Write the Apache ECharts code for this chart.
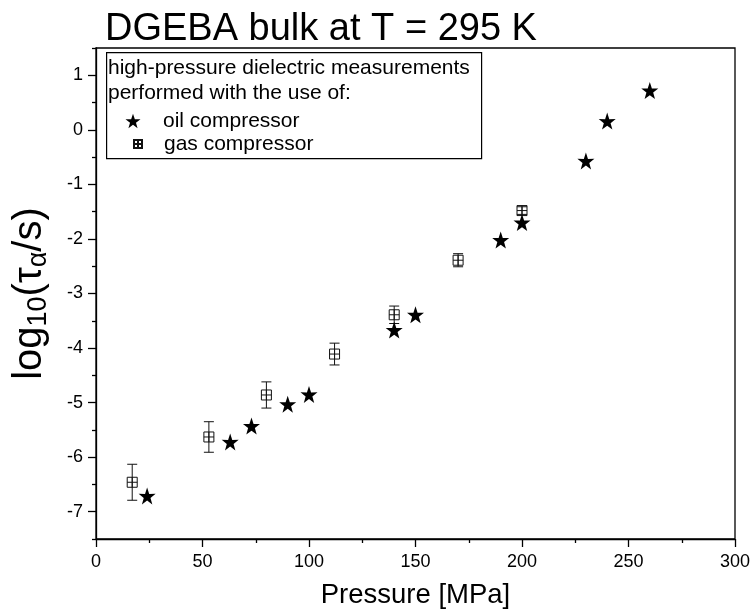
<!DOCTYPE html>
<html>
<head>
<meta charset="utf-8">
<script src="https://cdn.jsdelivr.net/npm/echarts@6/dist/echarts.min.js"></script>
<style>
html,body{margin:0;padding:0;background:#fff;}
#chart{width:753px;height:610px;}
</style>
</head>
<body>
<div id="chart"></div>
<script>
// ---- data ----
const pressureOil = [24, 63, 73, 90, 100, 140, 150, 190, 200, 230, 240, 260];
const logTauOil   = [-6.71, -5.72, -5.43, -5.03, -4.85, -3.67, -3.39, -2.02, -1.70, -0.57, 0.16, 0.72];
const pressureGas = [17, 53, 80, 112, 140, 170, 200];
const logTauGas   = [-6.46, -5.63, -4.86, -4.11, -3.39, -2.39, -1.48];
const errGas      = [0.33, 0.28, 0.24, 0.20, 0.16, 0.12, 0.07];
const yTickValues = [-7, -6, -5, -4, -3, -2, -1, 0, 1];
const yMinorValues = [-7.5, -6.5, -5.5, -4.5, -3.5, -2.5, -1.5, -0.5, 0.5, 1.5];
const titleText = 'DGEBA bulk at T = 295 K';
const legendHeader = ['high-pressure dielectric measurements', 'performed with the use of:'];
const seriesNames = ['oil compressor', 'gas compressor'];

const STAR = 'path://M50,0 L61.8,35.1 L98.1,34.5 L69.1,56.7 L79.4,91.5 L50,70.5 L20.6,91.5 L30.9,56.7 L1.9,34.5 L38.2,35.1 Z';
const BOX = 'path://M0,0 L10,0 L10,10 L0,10 Z M5,0 L5,10 M0,5 L10,5';

const oilData = pressureOil.map((p, i) => [p, logTauOil[i]]);
const gasData = pressureGas.map((p, i) => [p, logTauGas[i]]);
const errData = pressureGas.map((p, i) => [p, logTauGas[i] - errGas[i], logTauGas[i] + errGas[i]]);

const FONT = 'Liberation Sans, Arial, sans-serif';
const chart = echarts.init(document.getElementById('chart'), null, {renderer: 'canvas'});

const option = {
  animation: false,
  backgroundColor: '#fff',
  textStyle: {fontFamily: FONT},
  title: {
    text: titleText,
    left: 100, top: 6,
    textStyle: {fontFamily: FONT, fontSize: 38, fontWeight: 'normal', color: '#000'}
  },
  grid: {left: 96, right: 18, top: 48, bottom: 71, outerBoundsMode: 'none', show: true, borderColor: '#000', borderWidth: 1.3, backgroundColor: 'transparent'},
  legend: [
    {
      data: [seriesNames[0]], orient: 'vertical', left: 125.5, top: 110, padding: 0, z: 10,
      itemWidth: 15, itemHeight: 15, itemGap: 0,
      textStyle: {fontFamily: FONT, fontSize: 21, lineHeight: 22, color: '#000', padding: [0, 0, 0, 17.5]}
    },
    {
      data: [seriesNames[1]], orient: 'vertical', left: 133, top: 133, padding: 0, z: 10,
      itemWidth: 8, itemHeight: 8, itemGap: 0,
      textStyle: {fontFamily: FONT, fontSize: 21, lineHeight: 22, color: '#000', padding: [0, 0, 0, 17]}
    }
  ],
  graphic: [
    {type: 'rect', left: 106, top: 52, shape: {width: 375, height: 106}, style: {fill: '#fff', stroke: '#000', lineWidth: 1.2}, z: 5},
    {type: 'text', x: 108, y: 68, style: {text: legendHeader[0], font: '21px ' + FONT, fill: '#000', verticalAlign: 'middle'}, z: 6},
    {type: 'text', x: 108, y: 93, style: {text: legendHeader[1], font: '21px ' + FONT, fill: '#000', verticalAlign: 'middle'}, z: 6}
  ],
  xAxis: {
    type: 'value', min: 0, max: 300, interval: 50,
    name: 'Pressure [MPa]', nameLocation: 'middle', nameGap: 42,
    nameTextStyle: {fontFamily: FONT, fontSize: 27.5, color: '#000'},
    axisLine: {show: true, onZero: false, lineStyle: {color: '#000', width: 1.3}},
    axisTick: {show: true, inside: false, length: 8, lineStyle: {color: '#000', width: 1.3}},
    minorTick: {show: true, splitNumber: 2, length: 4, lineStyle: {color: '#000', width: 1.3}},
    axisLabel: {fontFamily: FONT, fontSize: 18, color: '#000', margin: 14},
    splitLine: {show: false}
  },
  yAxis: [
    {
      type: 'value', min: -7.5, max: 1.5,
      name: '{a|log}{b|10}{a|(τ}{b|α}{a|/s)}', nameLocation: 'middle', nameGap: 44,
      nameTextStyle: {
        fontFamily: FONT, color: '#000',
        rich: {
          a: {fontFamily: FONT, fontSize: 40, lineHeight: 44, color: '#000'},
          b: {fontFamily: FONT, fontSize: 27, lineHeight: 22, verticalAlign: 'bottom', color: '#000'}
        }
      },
      axisLine: {show: true, onZero: false, lineStyle: {color: '#000', width: 1.3}},
      axisTick: {show: true, inside: false, length: 8, customValues: yTickValues, lineStyle: {color: '#000', width: 1.3}},
      axisLabel: {fontFamily: FONT, fontSize: 18, color: '#000', margin: 13, customValues: yTickValues},
      splitLine: {show: false}
    },
    {
      type: 'value', min: -7.5, max: 1.5, position: 'left',
      axisLine: {show: false, onZero: false},
      axisTick: {show: true, inside: false, length: 4, customValues: yMinorValues, lineStyle: {color: '#000', width: 1.3}},
      axisLabel: {show: false},
      splitLine: {show: false}
    }
  ],
  series: [
    {
      name: seriesNames[1], type: 'scatter', data: gasData, symbol: BOX, symbolSize: 10,
      itemStyle: {color: 'rgba(255,255,255,0)', borderColor: '#111', borderWidth: 1, opacity: 1},
      z: 3
    },
    {
      name: 'gas error', type: 'custom', data: errData, z: 2,
      renderItem: function (params, api) {
        const x = api.value(0);
        const lo = api.coord([x, api.value(1)]);
        const hi = api.coord([x, api.value(2)]);
        const cap = 5;
        const st = {stroke: '#111', lineWidth: 1, fill: null};
        return {type: 'group', children: [
          {type: 'line', shape: {x1: lo[0], y1: lo[1], x2: hi[0], y2: hi[1]}, style: st},
          {type: 'line', shape: {x1: lo[0] - cap, y1: lo[1], x2: lo[0] + cap, y2: lo[1]}, style: st},
          {type: 'line', shape: {x1: hi[0] - cap, y1: hi[1], x2: hi[0] + cap, y2: hi[1]}, style: st}
        ]};
      }
    },
    {
      name: seriesNames[0], type: 'scatter', data: oilData, symbol: STAR, symbolSize: 17,
      itemStyle: {color: '#000', opacity: 1}, z: 4
    }
  ]
};
chart.setOption(option);
</script>
</body>
</html>
